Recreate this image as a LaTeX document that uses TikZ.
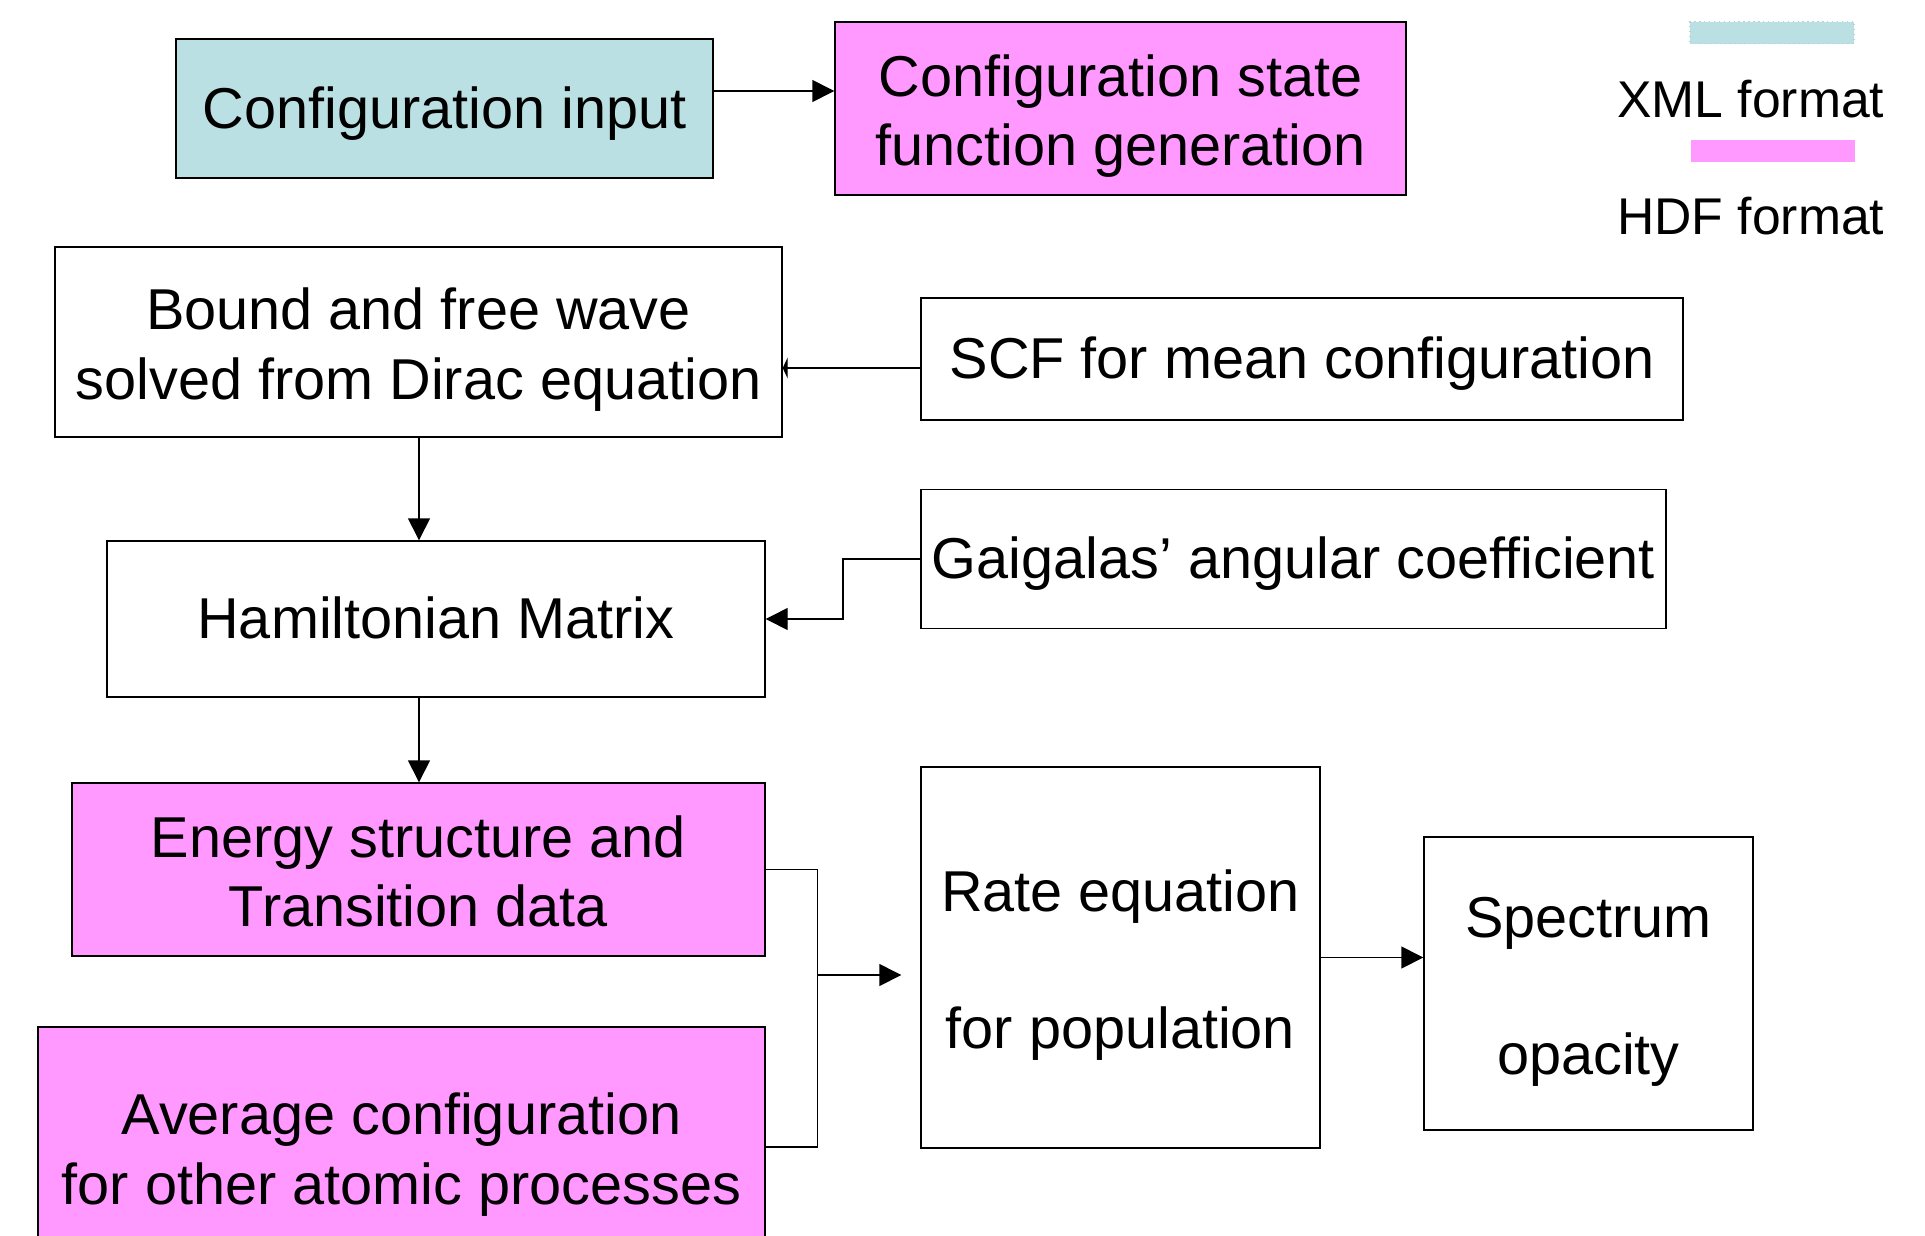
\documentclass[tikz,border=0pt]{standalone}
\usepackage{fontspec}
\setmainfont{Liberation Sans}
\usepackage{xcolor}
\usepackage{tikz}
\usetikzlibrary{arrows.meta,positioning,calc}
\definecolor{xmlcyan}{HTML}{BBE0E3}
\definecolor{hdfpink}{HTML}{FF99FF}
\newcommand{\boxstrut}{\rule[-0.212em]{0pt}{1.117em}}
\newcommand{\topstrut}{\rule[-0.212em]{0pt}{\dimexpr1.117em+0.05cm\relax}}

\begin{document}
\begin{tikzpicture}[
    box/.style={rectangle, draw, line width=0.4pt, inner sep=0pt, align=center,
                font=\fontsize{16.4pt}{19.9pt}\selectfont,
                execute at begin node=\boxstrut, execute at end node=\boxstrut},
    swatch/.style={rectangle, inner sep=0pt, minimum width=1.64cm, minimum height=0.22cm},
    legend/.style={inner sep=0pt, font=\fontsize{14.7pt}{17pt}\selectfont},
    >={Triangle[length=0.22cm,width=0.22cm]},
    line width=0.4pt
]
\clip (0,0) rectangle (19.25,-12.35);
\useasboundingbox (0,0) rectangle (19.25,-12.35);

\node[box, fill=xmlcyan, minimum width=5.37cm, minimum height=1.39cm] (input) at (4.445,-1.085) {Configuration input};
\node[box, fill=hdfpink, minimum width=5.71cm, minimum height=1.73cm] (gen) at (11.205,-1.085) {\topstrut Configuration state\\function generation};
\node[box, minimum width=7.27cm, minimum height=1.90cm] (wave) at (4.185,-3.42) {\topstrut Bound and free wave\\solved from Dirac equation};
\node[box, minimum width=7.62cm, minimum height=1.22cm] (scf)  at (13.02,-3.59) {SCF for mean configuration};
\node[box, minimum width=7.45cm, minimum height=1.39cm] (ang)  at (12.935,-5.59) {Gaigalas’ angular coefficient};
\node[box, minimum width=6.58cm, minimum height=1.56cm] (ham)  at (4.36,-6.19) {Hamiltonian Matrix};
\node[box, fill=hdfpink, minimum width=6.93cm, minimum height=1.73cm] (energy) at (4.185,-8.695) {\topstrut Energy structure and\\Transition data};
\node[box, fill=hdfpink, minimum width=7.27cm, minimum height=2.40cm] (avg) at (4.015,-11.47) {\topstrut Average configuration\\for other atomic processes};
\node[box, minimum width=3.99cm, minimum height=3.81cm] (rate) at (11.205,-9.575) {\topstrut Rate equation\\[0.67cm]for population};
\node[box, minimum width=3.29cm, minimum height=2.93cm] (spec) at (15.885,-9.835) {\topstrut Spectrum\\[0.67cm]opacity};

\node[swatch, fill=xmlcyan, draw=xmlcyan!85!gray, densely dotted] (xmlkey) at (17.72,-0.325) {};
\node[legend, anchor=base east] (xmltext) at (18.85,-1.17) {XML format};
\node[swatch, fill=hdfpink] (hdfkey) at (17.725,-1.505) {};
\node[legend, anchor=base east] (hdftext) at (18.85,-2.34) {HDF format};

\coordinate (join) at ($(energy.east)+(0.52,0)$);
\coordinate (tip)  at ($(rate.west)+(-0.19,-0.175)$);

\draw[->] ([yshift=0.175cm]input.east) -- ([yshift=0.175cm]input.east -| gen.west);
\draw[-{Triangle[length=0.05cm,width=0.21cm]}] ([yshift=-0.09cm]scf.west) -- ([yshift=-0.09cm]scf.west -| wave.east);
\draw[->] (wave.south -| 4.19,0) -- (ham.north -| 4.19,0);
\draw[->] (ham.south -| 4.19,0) -- (energy.north -| 4.19,0);
\draw[->] (ang.west) -| ($(ang.west)!0.5!(ham.east |- ang.west)$) |- (ham.east);
\draw (energy.east) -- (join) |- (avg.east);
\draw[->] (join |- tip) -- (tip);
\draw[->] (rate.east) -- (rate.east -| spec.west);
\end{tikzpicture}
\end{document}
